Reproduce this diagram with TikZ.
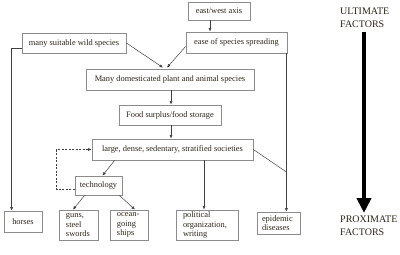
\documentclass[tikz,border=0pt]{standalone}
\usepackage{fontspec}
\setmainfont{Liberation Serif}
\usetikzlibrary{calc,arrows.meta}
\definecolor{txt}{HTML}{2A2418}
\definecolor{boxc}{HTML}{8C8C8C}
\definecolor{linec}{HTML}{404040}
\begin{document}
\begin{tikzpicture}[x=1pt,y=-1pt,
  box/.style={draw=boxc,line width=0.8pt,text=txt,inner sep=0pt,
    font=\fontsize{8.4}{9.5}\selectfont},
  mbox/.style={box,align=left,inner xsep=7pt},
  conn/.style={draw=linec,line width=0.5pt,-{Latex[length=3.5pt,width=3pt]}},
  plain/.style={draw=linec,line width=0.5pt},
  dconn/.style={conn,dashed,dash pattern=on 2pt off 1.5pt},
  lab/.style={text=txt,inner sep=0pt,align=left,anchor=north west,
    font=\fontsize{10}{12.5}\selectfont},
  bigarrow/.style={draw=black,line width=4pt,-{Triangle[width=14pt,length=15pt]}}]
\useasboundingbox (0,0) rectangle (400,255);

\node[box,minimum width=62,minimum height=18] (ew) at (219,11) {east/west axis};
\node[box,minimum width=101,minimum height=21] (ease) at (236.5,42.5) {ease of species spreading};
\node[box,minimum width=104,minimum height=20] (wild) at (74,43) {many suitable wild species};
\node[box,minimum width=168,minimum height=21] (dom) at (170,79.5) {Many domesticated plant and animal species};
\node[box,minimum width=102,minimum height=20] (food) at (170,115) {Food surplus/food storage};
\node[box,minimum width=161,minimum height=21] (large) at (172.5,149.5) {large, dense, sedentary, stratified societies};
\node[box,minimum width=47,minimum height=19] (tech) at (98.5,185.5) {technology};
\node[box,minimum width=38,minimum height=21] (horses) at (23,221.5) {horses};
\node[mbox,text width=25,minimum height=30] (guns) at (78.5,225) {guns,\\steel\\swords};
\node[mbox,text width=24,minimum height=30] (ships) at (129,225) {ocean-\\going\\ships};
\node[mbox,text width=48,minimum height=30] (pol) at (207,225) {political\\organization,\\writing};
\node[mbox,inner xsep=5pt,text width=33,minimum height=22] (epi) at (278.5,223) {epidemic\\diseases};

\node[lab] (ult) at (340,8) {ULTIMATE\\FACTORS};
\node[lab] (prox) at (340,216) {PROXIMATE\\FACTORS};

% connectors
\draw[conn] (ew.south -| 210,0) -- (ease.north -| 210,0);
\draw[conn] (wild.east) -- ($(dom.north)+(-7,-1)$);
\draw[conn] ($(ease.west)+(0,4)$) -- ($(dom.north)+(-3,-1)$);
\draw[conn] (dom.south -| 171,0) -- (food.north -| 171,0);
\draw[conn] (food.south -| 171,0) -- (large.north -| 171,0);
\coordinate (hx) at ($(horses.north west)+(8,0)$);
\draw[conn] ($(wild.south west)+(0,-5)$) -| (hx);
\coordinate (ex) at ($(ease.south east)+(-1,0)$);
\coordinate (j) at (ex |- 0,172);
\draw[conn] (ex) -- (ex |- epi.north);
\draw[plain] (large.east) -- (j);
\draw[conn] ($(large.south west)+(23,0)$) -- ($(tech.north)+(4,0)$);
\coordinate (px) at ($(pol.north)+(-3,0)$);
\draw[conn] (large.south -| px) -- (px);
\draw[conn] ($(tech.south west)+(10,0)$) -- ($(guns.north)+(-5.5,0)$);
\draw[conn] ($(tech.south east)+(-3,0)$) -- ($(ships.north)+(6,0)$);
\draw[dconn] ($(tech.west)+(0,4)$) -- ++(-18,0) |- (large.west);

% big arrow
\coordinate (a1) at (364,32);
\coordinate (a2) at (364,213);
\draw[bigarrow] (a1) -- (a2);
\end{tikzpicture}
\end{document}
